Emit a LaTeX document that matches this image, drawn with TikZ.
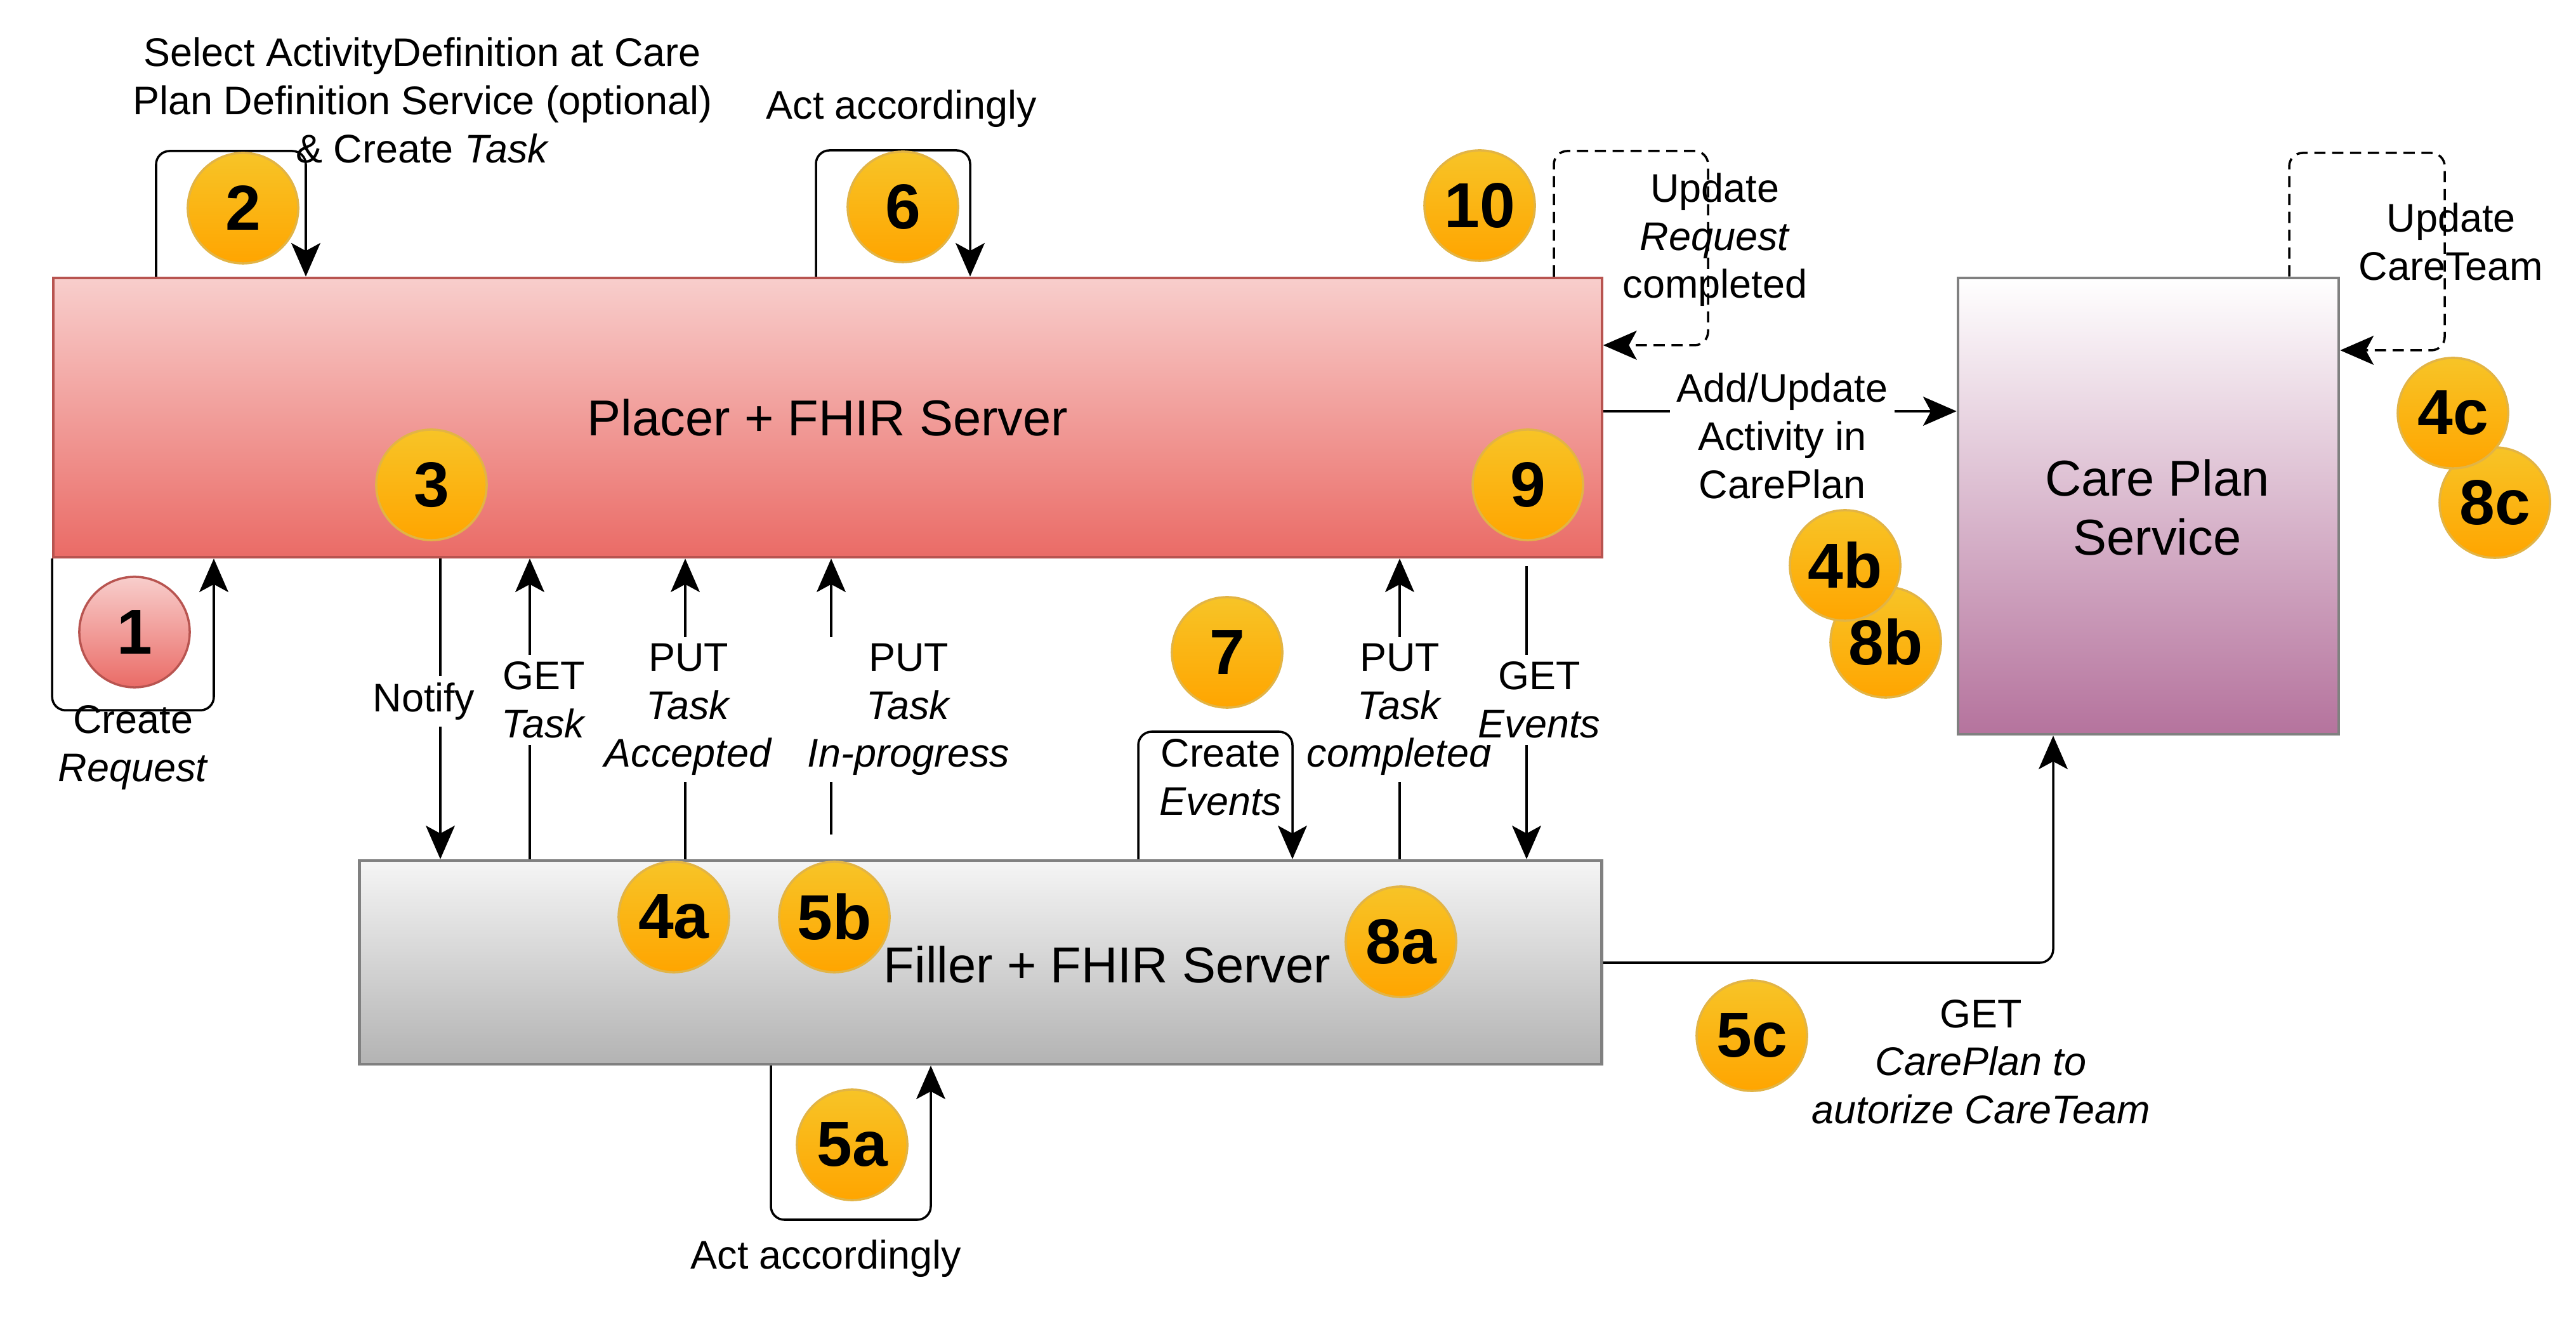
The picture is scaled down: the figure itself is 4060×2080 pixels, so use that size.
\documentclass[tikz,border=0pt]{standalone}
\usepackage{fontspec}
\setmainfont{Liberation Sans}
\usetikzlibrary{arrows.meta, positioning, calc}

\definecolor{redTop}{HTML}{F8CECC}
\definecolor{redBot}{HTML}{EA6B66}
\definecolor{redLine}{HTML}{B85450}
\definecolor{greyTop}{HTML}{F5F5F5}
\definecolor{greyBot}{HTML}{B3B3B3}
\definecolor{greyLine}{HTML}{808080}
\definecolor{purpleBot}{HTML}{B5739D}
\definecolor{badgeTop}{HTML}{F7C427}
\definecolor{badgeBot}{HTML}{FFA500}
\definecolor{badgeLine}{HTML}{E2B445}

\tikzset{
  server/.style={draw=#1, line width=1.2pt, inner sep=0pt, align=center,
    font=\fontsize{22.6}{26.5}\selectfont},
  badge/.style={circle, draw=badgeLine, line width=1pt, top color=badgeTop,
    bottom color=badgeBot, minimum size=17.4mm, inner sep=0pt,
    font=\fontsize{28.5}{34}\selectfont\bfseries},
  msg/.style={align=center, font=\fontsize{17.9}{21.5}\selectfont, inner sep=1pt},
  msgw/.style={msg, fill=white, inner sep=3pt},
  flow/.style={line width=1pt, -{Stealth[length=15pt, width=13pt, inset=3.5pt]}},
  selfloop/.style={flow, rounded corners=6pt},
  dashloop/.style={selfloop, dash pattern=on 5pt off 3pt}
}

\begin{document}
\begin{tikzpicture}[x=0.01cm, y=-0.01cm]
\useasboundingbox (0,0) rectangle (4060,2080);

% Servers
\node[server=redLine, top color=redTop, bottom color=redBot,
  minimum width=243.9mm, minimum height=44mm] (placer) at (1304.5,658) {Placer + FHIR Server};
\node[server=greyLine, top color=greyTop, bottom color=greyBot,
  minimum width=195.7mm, minimum height=32.1mm] (filler) at (1545.5,1516.5) {};
\node[server=greyLine, top color=white, bottom color=purpleBot,
  minimum width=60mm, minimum height=71.9mm] (plan) at (3386,797.5) {};
\node[server=white, draw=none] (planlbl) at (3400,800) {Care Plan\\Service};
\node[server=white, draw=none] (fillerlbl) at (1745,1520) {Filler + FHIR Server};

% Loops on the placer
\draw[selfloop] (placer.south west) -- ++(0,239) -| (placer.south -| 337,0);
\draw[selfloop] (placer.north -| 246,0) |- (482,238) -- (placer.north -| 482,0);
\draw[selfloop] (placer.north -| 1286,0) |- (1529,237) -- (placer.north -| 1529,0);
\draw[dashloop] (placer.north -| 2449,0) |- (2692,238) |- (placer.east |- 0,544);

% Care plan loop
\draw[dashloop] (plan.north -| 3608,0) |- (3853,241) |- (plan.east |- 0,552);

% Placer <-> filler
\draw[flow] (placer.south -| 694,0) -- (filler.north -| 694,0);
\draw[flow] (filler.north -| 835,0) -- (placer.south -| 835,0);
\draw[flow] (filler.north -| 1080,0) -- (placer.south -| 1080,0);
\draw[flow, shorten <=3.9mm] (filler.north -| 1310,0) -- (placer.south -| 1310,0);
\draw[flow] (filler.north -| 2206,0) -- (placer.south -| 2206,0);
\draw[flow, shorten <=1.2mm] (placer.south -| 2406,0) -- (filler.north -| 2406,0);
\draw[selfloop] (filler.north -| 1794,0) |- (2037,1153) -- (filler.north -| 2037,0);
\draw[selfloop] (filler.south -| 1215,0) |- (1467,1922) -- (filler.south -| 1467,0);

% Towards the care plan
\draw[flow] (placer.east |- 0,648) -- (plan.west |- 0,648);
\draw[flow, rounded corners=6pt] (filler.east |- 0,1517) -| (plan.south -| 3236,0);

% Labels
\node[msg] (lblselect) at (666,158) {Select ActivityDefinition at Care\\Plan Definition Service (optional)\\\& Create \textit{Task}};
\node[msg] (lblact) at (1421,171) {Act accordingly};
\node[msg] (lblreq) at (2703,378) {Update\\\textit{Request}\\completed};
\node[msg] (lblteam) at (3863,381) {Update\\CareTeam};
\node[msg] (lblcreate) at (210,1178) {Create\\\textit{Request}};
\node[msgw] (lblnotify) at (668,1105) {Notify};
\node[msgw] (lblgettask) at (857,1103) {GET\\\textit{Task}};
\node[msgw] (lblaccepted) at (1085,1118) {PUT\\\textit{Task}\\\textit{Accepted}};
\node[msgw] (lblprogress) at (1432,1118) {PUT\\\textit{Task}\\\textit{In-progress}};
\node[msg] (lblevents) at (1924,1225) {Create\\\textit{Events}};
\node[msgw] (lblcompleted) at (2206,1118) {PUT\\\textit{Task}\\\textit{completed}};
\node[msgw] (lblgetevents) at (2426,1103) {GET\\\textit{Events}};
\node[msgw] (lbladd) at (2809,687) {Add/Update\\Activity in\\CarePlan};
\node[msg] (lblgetplan) at (3122,1673) {GET\\\textit{CarePlan to}\\\textit{autorize CareTeam}};
\node[msg] (lblact2) at (1302,1983) {Act accordingly};

% Step numbers
\node[badge, draw=redLine, top color=redTop, bottom color=redBot] (s1) at (212,996) {1};
\foreach \n/\x/\y in {2/383/328, 3/680/764, 6/1423/326, 10/2332/324, 9/2408/764,
    4a/1062/1445, 5b/1315/1445, 8a/2208/1484, 7/1934/1028, 5a/1343/1804,
    5c/2761/1632, 8b/2972/1012, 4b/2908/891, 8c/3932/792, 4c/3866/651}
  \node[badge] (s\n) at (\x,\y) {\n};
\end{tikzpicture}
\end{document}
